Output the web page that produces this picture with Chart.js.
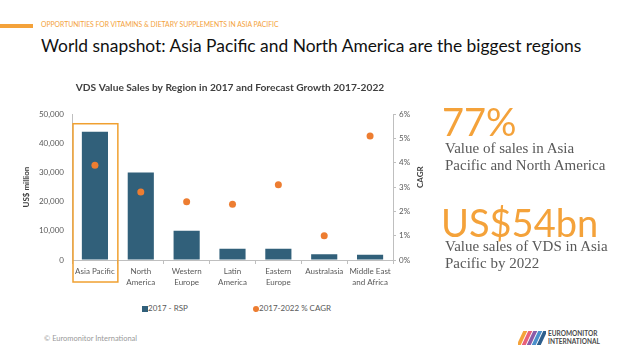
<!DOCTYPE html>
<html>
<head>
<meta charset="utf-8">
<script src="https://cdn.jsdelivr.net/npm/chart.js@4.4.0/dist/chart.umd.min.js"></script>
<style>
  html, body { margin:0; padding:0; background:#fff; width:638px; height:359px; overflow:hidden; font-family: Lato, sans-serif; }
  .abs { position:absolute; white-space:nowrap; }
  #c { position:absolute; left:0; top:0; }
</style>
</head>
<body>
<div class="abs" style="left:0;top:24px;width:33px;height:4px;background:#F4A23A;"></div>
<div class="abs" style="left:41px;top:20px;font-size:6.8px;color:#F4A23A;">OPPORTUNITIES FOR VITAMINS &amp; DIETARY SUPPLEMENTS IN ASIA PACIFIC</div>
<div class="abs" style="left:41px;top:35px;font-size:17.4px;color:#111;">World snapshot: Asia Pacific and North America are the biggest regions</div>

<canvas id="c" width="450" height="300"></canvas>

<div class="abs" style="left:142px;top:306px;width:6px;height:6px;background:#31607A;"></div>
<div class="abs" style="left:148px;top:303px;font-size:8px;color:#595959;" id="lg1"></div>
<div class="abs" style="left:253px;top:306px;width:6px;height:6px;border-radius:50%;background:#ED7D31;"></div>
<div class="abs" style="left:259px;top:303px;font-size:8px;color:#595959;" id="lg2"></div>

<div class="abs" style="left:442px;top:98px;font-size:38px;color:#F4A23A;font-weight:400;">77%</div>
<div class="abs" style="left:445px;top:140px;font-size:15px;line-height:17px;color:#595959;font-family:'Liberation Serif',serif;">Value of sales in Asia<br>Pacific and North America</div>
<div class="abs" style="left:441px;top:199px;font-size:38px;color:#F4A23A;font-weight:400;">US$54bn</div>
<div class="abs" style="left:445px;top:238px;font-size:15px;line-height:17px;color:#595959;font-family:'Liberation Serif',serif;">Value sales of VDS in Asia<br>Pacific by 2022</div>

<div class="abs" style="left:44px;top:334px;font-size:7.5px;color:#9a9a9a;">© Euromonitor International</div>
<div class="abs" style="left:518px;top:331px;width:28px;height:14px;overflow:hidden;">
  <div style="position:absolute;left:2px;top:0;width:4px;height:14px;background:#F4A23A;transform:skewX(-25deg);"></div>
  <div style="position:absolute;left:7px;top:0;width:4px;height:14px;background:#E8607A;transform:skewX(-25deg);"></div>
  <div style="position:absolute;left:12px;top:0;width:4px;height:14px;background:#8B5BA8;transform:skewX(-25deg);"></div>
  <div style="position:absolute;left:17px;top:0;width:4px;height:14px;background:#4A8FCB;transform:skewX(-25deg);"></div>
  <div style="position:absolute;left:22px;top:0;width:4px;height:14px;background:#2E5E8C;transform:skewX(-25deg);"></div>
</div>
<div class="abs" style="left:548px;top:330px;font-size:6.5px;line-height:7.5px;font-weight:bold;color:#4a4a4a;">EUROMONITOR<br>INTERNATIONAL</div>

<script>
const categories = [['Asia Pacific'], ['North', 'America'], ['Western', 'Europe'], ['Latin', 'America'], ['Eastern', 'Europe'], ['Australasia'], ['Middle East', 'and Africa']];
const rsp2017 = [44000, 30000, 10000, 3900, 3900, 2000, 1800];
const cagr = [3.9, 2.8, 2.4, 2.3, 3.1, 1.0, 5.1];
const seriesNames = ['2017 - RSP', '2017-2022 % CAGR'];
const chartTitle = 'VDS Value Sales by Region in 2017 and Forecast Growth 2017-2022';
const leftTitle = 'US$ million';
const rightTitle = 'CAGR';

document.getElementById('lg1').textContent = seriesNames[0];
document.getElementById('lg2').textContent = seriesNames[1];

const GRAY = '#BFBFBF';
const TICK = '#595959';

const highlight = {
  id: 'highlight',
  afterDatasetsDraw(chart) {
    const x = chart.scales.x;
    const bar = chart.getDatasetMeta(0).data[0];
    const half = (x.getPixelForValue(1) - x.getPixelForValue(0)) / 2;
    const cx = x.getPixelForValue(0);
    const ctx = chart.ctx;
    ctx.save();
    ctx.strokeStyle = '#F0A030';
    ctx.lineWidth = 1.5;
    const top = bar.y - 8;
    const bottom = chart.chartArea.bottom + 22;
    ctx.strokeRect(cx - half + 1, top, 2 * half - 1, bottom - top);
    ctx.restore();
  }
};

const rightAxisTitle = {
  id: 'rightAxisTitle',
  afterDraw(chart) {
    const s = chart.scales.y1;
    const ctx = chart.ctx;
    ctx.save();
    ctx.translate(s.right - 30, (chart.chartArea.top + chart.chartArea.bottom) / 2 - 10);
    ctx.rotate(-Math.PI / 2);
    ctx.font = 'bold 8px Lato';
    ctx.fillStyle = '#404040';
    ctx.textAlign = 'center';
    ctx.textBaseline = 'middle';
    ctx.fillText(rightTitle, 0, 0);
    ctx.restore();
  }
};

new Chart(document.getElementById('c'), {
  data: {
    labels: categories,
    datasets: [
      { type: 'bar', label: seriesNames[0], data: rsp2017, backgroundColor: '#31607A', borderWidth: 0,
        barPercentage: 0.57, categoryPercentage: 1, yAxisID: 'y', order: 2 },
      { type: 'line', label: seriesNames[1], data: cagr, showLine: false, yAxisID: 'y1',
        pointRadius: 3.5, pointBackgroundColor: '#ED7D31', pointBorderWidth: 0, order: 1 }
    ]
  },
  options: {
    responsive: false,
    devicePixelRatio: 1,
    animation: false,
    layout: { padding: { left: 10, right: 0, top: 0, bottom: 0 } },
    plugins: {
      legend: { display: false },
      tooltip: { enabled: false },
      title: { display: true, text: chartTitle, color: '#404040',
        font: { family: 'Lato', size: 10.2, weight: 'bold' }, padding: { top: 82, bottom: 20 } }
    },
    scales: {
      x: {
        offset: true,
        grid: { display: true, drawOnChartArea: false, offset: true, tickLength: 4, color: GRAY },
        border: { display: true, color: GRAY },
        ticks: { color: TICK, font: { family: 'Lato', size: 8, lineHeight: 1.35 }, padding: 2, maxRotation: 0, autoSkip: false },
        afterFit(s) { s.height = 40; }
      },
      y: {
        position: 'left', min: 0, max: 50000,
        grid: { drawOnChartArea: false, drawTicks: false },
        border: { display: true, color: GRAY },
        ticks: { stepSize: 10000, color: TICK, font: { family: 'Lato', size: 8 }, padding: 8,
          callback: v => v.toLocaleString('en-US') },
        title: { display: true, text: leftTitle, color: '#404040', font: { family: 'Lato', size: 8, weight: 'bold' }, padding: { top: 12, bottom: 0 } },
        afterFit(s) { s.width = 62; }
      },
      y1: {
        position: 'right', min: 0, max: 6,
        grid: { drawOnChartArea: false, tickLength: 3, color: GRAY },
        border: { display: true, color: GRAY },
        ticks: { stepSize: 1, color: TICK, font: { family: 'Lato', size: 8 }, padding: 3,
          callback: v => v + '%' },
        afterFit(s) { s.width = 57; }
      }
    }
  },
  plugins: [highlight, rightAxisTitle]
});
</script>
</body>
</html>
